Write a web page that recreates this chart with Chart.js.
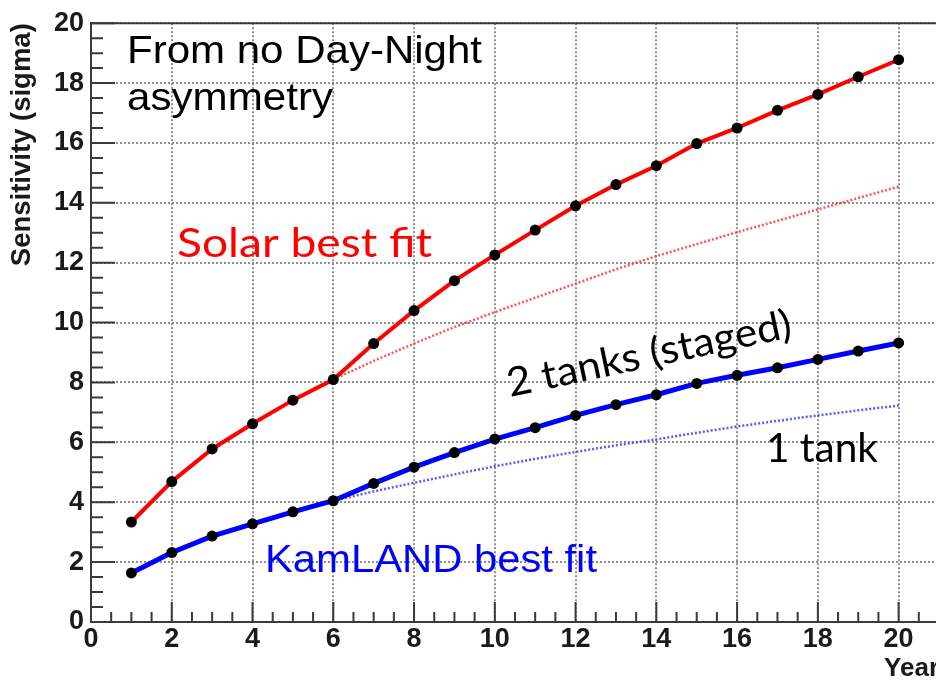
<!DOCTYPE html>
<html>
<head>
<meta charset="utf-8">
<script src="https://cdn.jsdelivr.net/npm/chart.js@4.4.1/dist/chart.umd.min.js"></script>
<style>
  html, body { margin: 0; padding: 0; background: #fff; overflow: hidden; width: 936px; height: 684px; }
  #wrap { position: absolute; left: 0; top: 0; width: 950px; height: 684px; }
</style>
</head>
<body>
<div id="wrap"><canvas id="c" width="950" height="684"></canvas></div>
<script>
// ---- data ----
const years = [1,2,3,4,5,6,7,8,9,10,11,12,13,14,15,16,17,18,19,20];
const solarTwoTanks = [3.34,4.69,5.78,6.62,7.41,8.10,9.30,10.40,11.40,12.26,13.09,13.90,14.61,15.24,15.98,16.50,17.09,17.62,18.21,18.78];
const kamlandTwoTanks = [1.64,2.32,2.87,3.28,3.68,4.05,4.63,5.17,5.66,6.11,6.49,6.90,7.26,7.59,7.97,8.24,8.49,8.77,9.05,9.32];
const oneTankYears = [6,7,8,9,10,11,12,13,14,15,16,17,18,19,20];
const solarOneTank = [8.10,8.72,9.30,9.85,10.35,10.83,11.30,11.78,12.22,12.62,13.02,13.40,13.78,14.16,14.54];
const kamlandOneTank = [4.05,4.36,4.65,4.93,5.20,5.45,5.68,5.90,6.10,6.32,6.53,6.72,6.90,7.07,7.23];
const xTickValues = [0,2,4,6,8,10,12,14,16,18,20];
const yTickValues = [0,2,4,6,8,10,12,14,16,18,20];
const xAxisTitle = 'Year';
const yAxisTitle = 'Sensitivity (sigma)';

const toPts = (xs, ys) => xs.map((x, i) => ({x: x, y: ys[i]}));

// inner ROOT-style tick marks + top frame
const frameTicks = {
  id: 'frameTicks',
  beforeDatasetsDraw(chart) {
    const {ctx, chartArea: a, scales: {x, y}} = chart;
    ctx.save();
    ctx.strokeStyle = '#3a3a3a';
    ctx.lineWidth = 2;
    ctx.beginPath();
    for (let v = 0; v <= 21.001; v += 0.5) {
      const px = x.getPixelForValue(v);
      const len = (Math.abs(v % 2) < 1e-6) ? 20 : 10;
      ctx.moveTo(px, a.bottom); ctx.lineTo(px, a.bottom - len);
    }
    for (let v = 0; v <= 20.001; v += 0.5) {
      const py = y.getPixelForValue(v);
      const len = (Math.abs(v % 2) < 1e-6) ? 24 : 12;
      ctx.moveTo(a.left, py); ctx.lineTo(a.left + len, py);
    }
    ctx.stroke();
    ctx.beginPath();
    ctx.moveTo(a.left, a.top); ctx.lineTo(a.right, a.top); ctx.lineTo(a.right, a.bottom);
    ctx.stroke();
    ctx.restore();
  }
};

function drawLabel(ctx, text, x, y, font, color, width, angleDeg) {
  ctx.save();
  ctx.font = font;
  ctx.fillStyle = color;
  ctx.textBaseline = 'alphabetic';
  ctx.textAlign = 'left';
  ctx.translate(x, y);
  ctx.rotate((angleDeg || 0) * Math.PI / 180);
  const w = ctx.measureText(text).width;
  ctx.scale(width / w, 1);
  ctx.fillText(text, 0, 0);
  ctx.restore();
}

const annotations = {
  id: 'annotations',
  afterDraw(chart) {
    const ctx = chart.ctx;
    drawLabel(ctx, 'From no Day-Night', 127, 63, '39px "Liberation Sans", Arial, sans-serif', '#000', 355, 0);
    drawLabel(ctx, 'asymmetry', 127, 110, '39px "Liberation Sans", Arial, sans-serif', '#000', 206, 0);
    drawLabel(ctx, 'Solar best fit', 177, 257, '40px Lato, "Open Sans", sans-serif', '#ff0000', 255, 0);
    drawLabel(ctx, '2 tanks (staged)', 510, 397, '40px Lato, "Open Sans", sans-serif', '#000', 290, -12);
    drawLabel(ctx, '1 tank', 766, 462, '40px Lato, "Open Sans", sans-serif', '#000', 112, 0);
    drawLabel(ctx, 'KamLAND best fit', 265, 572, '38px "Liberation Sans", Arial, sans-serif', '#0000ff', 332, 0);
  }
};

const tickFont = {family: '"Liberation Sans", Arial, sans-serif', size: 27, weight: 'bold'};

new Chart(document.getElementById('c'), {
  type: 'line',
  data: {
    datasets: [
      {
        label: 'Solar best fit (2 tanks)',
        data: toPts(years, solarTwoTanks),
        borderColor: '#ff0000', borderWidth: 4,
        pointRadius: 5.5, pointBackgroundColor: '#000', pointBorderWidth: 0,
        tension: 0
      },
      {
        label: 'KamLAND best fit (2 tanks)',
        data: toPts(years, kamlandTwoTanks),
        borderColor: '#0000ff', borderWidth: 5,
        pointRadius: 5.5, pointBackgroundColor: '#000', pointBorderWidth: 0,
        tension: 0
      },
      {
        label: 'Solar best fit (1 tank)',
        data: toPts(oneTankYears, solarOneTank),
        borderColor: 'rgba(255,50,50,0.85)', borderWidth: 2.5, borderDash: [2, 2],
        pointRadius: 0, tension: 0
      },
      {
        label: 'KamLAND best fit (1 tank)',
        data: toPts(oneTankYears, kamlandOneTank),
        borderColor: 'rgba(60,60,255,0.85)', borderWidth: 2.5, borderDash: [2, 2],
        pointRadius: 0, tension: 0
      }
    ]
  },
  options: {
    responsive: false,
    animation: false,
    devicePixelRatio: 1,
    layout: { padding: { left: 0, top: 17, right: 11, bottom: 0 } },
    plugins: { legend: { display: false }, tooltip: { enabled: false } },
    scales: {
      x: {
        type: 'linear', position: 'bottom', min: 0, max: 21,
        afterBuildTicks: s => { s.ticks = xTickValues.map(v => ({value: v})); },
        afterFit: s => { s.height = 62; },
        grid: { color: '#8f8f8f', lineWidth: 2, drawTicks: false },
        border: { display: true, color: '#3a3a3a', width: 2, dash: [2, 2] },
        ticks: { font: tickFont, color: '#1a1a1a', padding: 1, maxRotation: 0, autoSkip: false },
        title: { display: true, text: xAxisTitle, align: 'end', color: '#1a1a1a',
                 font: {family: '"Liberation Sans", Arial, sans-serif', size: 26, weight: 'bold'},
                 padding: {top: 0, bottom: 0} }
      },
      y: {
        type: 'linear', min: 0, max: 20,
        afterBuildTicks: s => { s.ticks = yTickValues.map(v => ({value: v})); },
        afterFit: s => { s.width = 91; },
        grid: { color: '#8f8f8f', lineWidth: 2, drawTicks: false },
        border: { display: true, color: '#3a3a3a', width: 2, dash: [2, 2] },
        ticks: { font: tickFont, color: '#1a1a1a', padding: 7, autoSkip: false },
        title: { display: true, text: yAxisTitle, align: 'end', color: '#1a1a1a',
                 font: {family: '"Liberation Sans", Arial, sans-serif', size: 27.5, weight: 'bold'},
                 padding: {top: 6, bottom: 0} }
      }
    }
  },
  plugins: [frameTicks, annotations]
});
</script>
</body>
</html>
